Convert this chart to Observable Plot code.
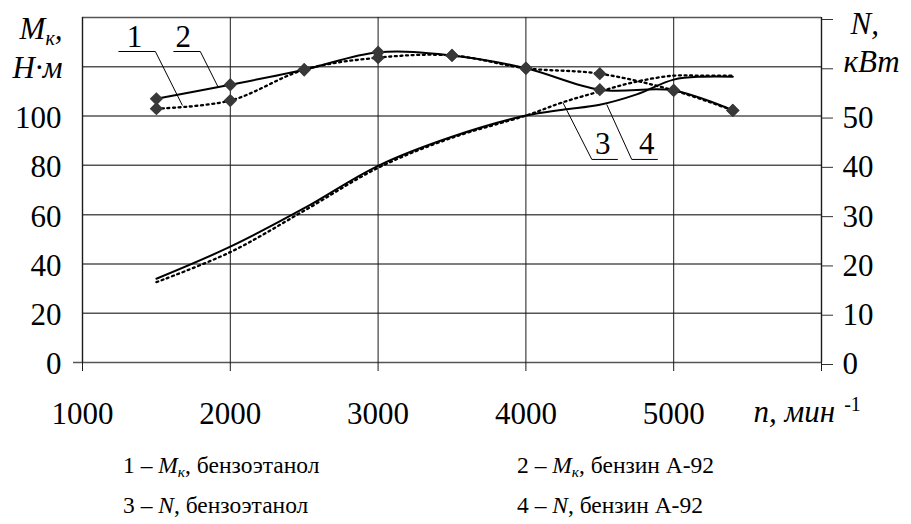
<!DOCTYPE html>
<html><head><meta charset="utf-8">
<script src="https://cdn.jsdelivr.net/npm/d3@7"></script>
<script src="https://cdn.jsdelivr.net/npm/@observablehq/plot@0.6"></script>
<style>
body{margin:0;background:#fff;font-family:'Liberation Serif';}
#chart svg{display:block}
#legend{position:relative;width:911px;height:84px;font-size:23.5px;color:#000;font-family:'Liberation Serif'}
#legend div{position:absolute;white-space:nowrap;line-height:26px}
#legend sub{font-size:0.66em;vertical-align:-0.25em}
</style></head><body>
<div id="chart"></div>
<div id="legend"></div>
<script>
// ---- data ----
const rpm = [1500, 2000, 2500, 3000, 3500, 4000, 4500, 5000, 5400];
const torqueEthanol = [103.0, 106.3, 118.8, 123.7, 124.6, 119.4, 117.2, 110.4, 102.3]; // 1 (dotted)
const torqueA92     = [107.0, 112.7, 118.8, 125.9, 124.6, 119.4, 110.7, 110.4, 102.3]; // 2 (solid)
const powerRpm = [1500, 2000, 2500, 3000, 3500, 4000, 4250, 4500, 4750, 5000, 5200, 5400];
const powerEthanol = [16.3, 22.4, 30.8, 39.5, 45.6, 50.1, 52.8, 55.0, 57.0, 58.2, 58.2, 58.2]; // 3 (dotted)
const powerA92     = [17.0, 23.5, 31.3, 39.9, 45.8, 50.1, 51.3, 52.3, 54.4, 57.4, 58.0, 58.0]; // 4 (solid)
const xGrid = [1000, 2000, 3000, 4000, 5000, 6000];
const xTicks = [1000, 2000, 3000, 4000, 5000];
const torqueGrid = [0, 20, 40, 60, 80, 100, 120, 140];
const torqueTicks = [0, 20, 40, 60, 80, 100];
const powerTicks = [0, 10, 20, 30, 40, 50];
const powerToTorque = 2; // 70 kW ↔ 140 N·m
// callout labels (in data units: rpm, N·m)
const callouts = [
  {label: "1", tx: 1351, ty: 131.9, u1: 1243, u2: 1493, uy: 126.2, lx1: 1493, lx2: 1676, ly2: 104.3},
  {label: "2", tx: 1682, ty: 131.9, u1: 1615, u2: 1797, uy: 126.2, lx1: 1797, lx2: 1919, ly2: 111.6},
  {label: "3", tx: 4520, ty: 88.5, u1: 4446, u2: 4622, uy: 82.4, lx1: 4446, lx2: 4250, ly2: 105.5},
  {label: "4", tx: 4818, ty: 88.5, u1: 4716, u2: 4892, uy: 82.4, lx1: 4716, lx2: 4547, ly2: 104.7}
];
const legendItems = [
  {num: "1", sym: "M", sub: "к", fuel: "бензоэтанол"},
  {num: "2", sym: "M", sub: "к", fuel: "бензин А-92"},
  {num: "3", sym: "N", sub: "", fuel: "бензоэтанол"},
  {num: "4", sym: "N", sub: "", fuel: "бензин А-92"}
];

// ---- tables ----
const mEth = rpm.map((r, i) => ({r, v: torqueEthanol[i]}));
const mA92 = rpm.map((r, i) => ({r, v: torqueA92[i]}));
const nEth = powerRpm.map((r, i) => ({r, v: powerEthanol[i] * powerToTorque}));
const nA92 = powerRpm.map((r, i) => ({r, v: powerA92[i] * powerToTorque}));

const dotted = {stroke: "#000", strokeWidth: 2.3, strokeDasharray: "2,3.6", curve: "catmull-rom"};
const solid = {stroke: "#000", strokeWidth: 2, curve: "catmull-rom"};
const F = "Liberation Serif";
const T = {fontSize: 31, fontFamily: F, lineAnchor: "middle", fill: "#000"};

const chart = Plot.plot({
  width: 911, height: 440,
  marginLeft: 82, marginRight: 90, marginTop: 17, marginBottom: 78,
  style: {fontFamily: F, fontSize: "31px", color: "#000", background: "#fff", overflow: "visible"},
  x: {domain: [1000, 6000]},
  y: {domain: [0, 140]},
  marks: [
    Plot.ruleY(torqueGrid, {stroke: "#555", strokeWidth: 1.5}),
    Plot.ruleX(xGrid, {y1: 0, y2: 140, stroke: "#1a1a1a", strokeWidth: d => (d === 1000 || d === 6000) ? 1.4 : 1}),
    Plot.axisX(xGrid, {tickSize: 9, tickPadding: 30, fontSize: 31, fontFamily: F, label: null, stroke: "#1a1a1a",
      tickFormat: d => xTicks.includes(d) ? String(d) : ""}),
    Plot.axisY(torqueTicks, {anchor: "left", tickSize: 0, tickPadding: 21, fontSize: 31, fontFamily: F, label: null, dy: 2,
      tickFormat: d => String(d)}),
    Plot.axisY([0], {anchor: "left", tickSize: 9, tickFormat: () => "", label: null, stroke: "#555", strokeWidth: 1.5}),
    Plot.axisY(torqueGrid, {anchor: "right", tickSize: 11, tickPadding: 10, fontSize: 31, fontFamily: F, label: null, dy: 2,
      stroke: "#333",
      tickFormat: d => powerTicks.includes(d / powerToTorque) ? String(d / powerToTorque) : ""}),
    // curves
    Plot.line(nEth, {x: "r", y: "v", ...dotted}),
    Plot.line(nA92, {x: "r", y: "v", ...solid}),
    Plot.line(mEth, {x: "r", y: "v", ...dotted}),
    Plot.line(mA92, {x: "r", y: "v", ...solid}),
    Plot.dot(mEth, {x: "r", y: "v", symbol: "diamond2", r: 6, fill: "#383838", stroke: "none"}),
    Plot.dot(mA92, {x: "r", y: "v", symbol: "diamond2", r: 6, fill: "#383838", stroke: "none"}),
    // callouts
    Plot.link(callouts, {x1: "u1", x2: "u2", y1: "uy", y2: "uy", stroke: "#000", strokeWidth: 1}),
    Plot.link(callouts, {x1: "lx1", x2: "lx2", y1: "uy", y2: "ly2", stroke: "#000", strokeWidth: 1}),
    Plot.text(callouts, {x: "tx", y: "ty", text: "label", ...T}),
    // axis titles
    Plot.text(["M"], {frameAnchor: "top-left", textAnchor: "end", dx: -20, dy: 12, fontStyle: "italic", ...T, className: "ttl-mk"}),
    Plot.text(["Н·м"], {frameAnchor: "top-left", textAnchor: "end", dx: -20, dy: 51, fontStyle: "italic", ...T}),
    Plot.text(["N,"], {frameAnchor: "top-right", textAnchor: "start", dx: 29, dy: 7, fontStyle: "italic", ...T}),
    Plot.text(["кВт"], {frameAnchor: "top-right", textAnchor: "start", dx: 22, dy: 45, fontStyle: "italic", ...T}),
    Plot.text(["n, мин"], {frameAnchor: "bottom-right", textAnchor: "start", dx: -68, dy: 50, fontStyle: "italic", ...T, className: "ttl-n"})
  ]
});
document.getElementById("chart").appendChild(chart);
chart.querySelectorAll("text").forEach(t => { t.style.fontFamily = "'Liberation Serif'"; });

// subscripts / superscripts
const svgNS = "http://www.w3.org/2000/svg";
chart.querySelectorAll(".ttl-mk text").forEach(t => {
  const s = document.createElementNS(svgNS, "tspan");
  s.setAttribute("font-size", "20"); s.setAttribute("dy", "6"); s.textContent = "к";
  const c = document.createElementNS(svgNS, "tspan");
  c.setAttribute("dy", "-6"); c.textContent = ",";
  t.appendChild(s); t.appendChild(c);
});
chart.querySelectorAll(".ttl-n text").forEach(t => {
  const s = document.createElementNS(svgNS, "tspan");
  s.setAttribute("font-size", "20"); s.setAttribute("dy", "-11"); s.setAttribute("dx", "9");
  s.setAttribute("font-style", "normal"); s.textContent = "-1";
  t.appendChild(s);
});

// legend
const legend = document.getElementById("legend");
const pos = [[123, 12], [517, 12], [123, 52], [517, 52]];
legendItems.forEach((d, i) => {
  const el = document.createElement("div");
  el.style.left = pos[i][0] + "px"; el.style.top = pos[i][1] + "px";
  el.innerHTML = `${d.num} – <i>${d.sym}${d.sub ? `<sub>${d.sub}</sub>` : ""}</i>, ${d.fuel}`;
  legend.appendChild(el);
});
</script>
</body></html>
